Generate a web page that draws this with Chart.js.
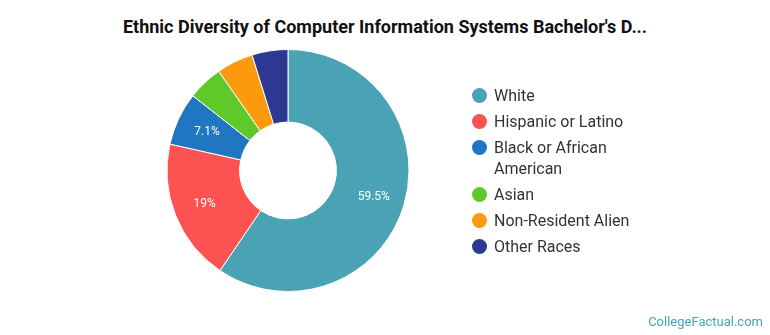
<!DOCTYPE html>
<html>
<head>
<meta charset="utf-8">
<script src="https://cdn.jsdelivr.net/npm/chart.js@4"></script>
<style>
  html, body { margin: 0; padding: 0; background: #fff; }
  body { width: 770px; height: 335px; position: relative; overflow: hidden; font-family: Roboto, sans-serif; }
  #title { position: absolute; left: 0; top: 16px; width: 770px; text-align: center; font-weight: bold; font-size: 18px; color: #111; }
  #chart { position: absolute; left: 0; top: 0; }
  #legend { position: absolute; left: 472px; top: 85px; list-style: none; margin: 0; padding: 0; font-size: 16px; color: #333; }
  #legend li { position: relative; padding-left: 22px; line-height: 21px; margin-bottom: 5px; width: 140px; }
  #legend li span.dot { position: absolute; left: 0; top: 3px; width: 15px; height: 15px; border-radius: 50%; }
  #footer { position: absolute; right: 7px; bottom: 6px; font-size: 13px; color: #4aa3b5; }
</style>
</head>
<body>
<div id="title">Ethnic Diversity of Computer Information Systems Bachelor's D...</div>
<canvas id="chart" width="770" height="335"></canvas>
<ul id="legend"></ul>
<div id="footer">CollegeFactual.com</div>
<script>
const categories = ["White", "Hispanic or Latino", "Black or African American", "Asian", "Non-Resident Alien", "Other Races"]
const shares = [59.5, 19, 7.1, 4.7, 4.9, 4.8]
const colors = ["#4aa3b5", "#fc5252", "#2176c2", "#60c92a", "#fb9a0c", "#2d3892"]

// percentage labels drawn inside the larger slices
const sliceLabels = {
  id: "sliceLabels",
  afterDatasetsDraw(chart) {
    const ctx = chart.ctx
    const meta = chart.getDatasetMeta(0)
    ctx.save()
    ctx.font = "12px Roboto, sans-serif"
    ctx.fillStyle = "#fff"
    ctx.textAlign = "center"
    ctx.textBaseline = "middle"
    meta.data.forEach((arc, i) => {
      if (shares[i] < 7) return
      const mid = (arc.startAngle + arc.endAngle) / 2
      const r = (arc.innerRadius + arc.outerRadius) / 2 + 5
      ctx.fillText(shares[i] + "%", arc.x + Math.cos(mid) * r, arc.y + Math.sin(mid) * r)
    })
    ctx.restore()
  }
}

new Chart(document.getElementById("chart"), {
  type: "doughnut",
  data: {
    labels: categories,
    datasets: [{
      data: shares,
      backgroundColor: colors,
      borderColor: "#fff",
      borderWidth: 1
    }]
  },
  options: {
    responsive: false,
    animation: false,
    cutout: "40%",
    layout: { padding: { left: 166, right: 360, top: 49, bottom: 43 } },
    plugins: {
      legend: { display: false },
      tooltip: { enabled: false }
    }
  },
  plugins: [sliceLabels]
})

const legend = document.getElementById("legend")
categories.forEach((name, i) => {
  const li = document.createElement("li")
  li.innerHTML = `<span class="dot" style="background:${colors[i]}"></span>${name}`
  legend.appendChild(li)
})
</script>
</body>
</html>
